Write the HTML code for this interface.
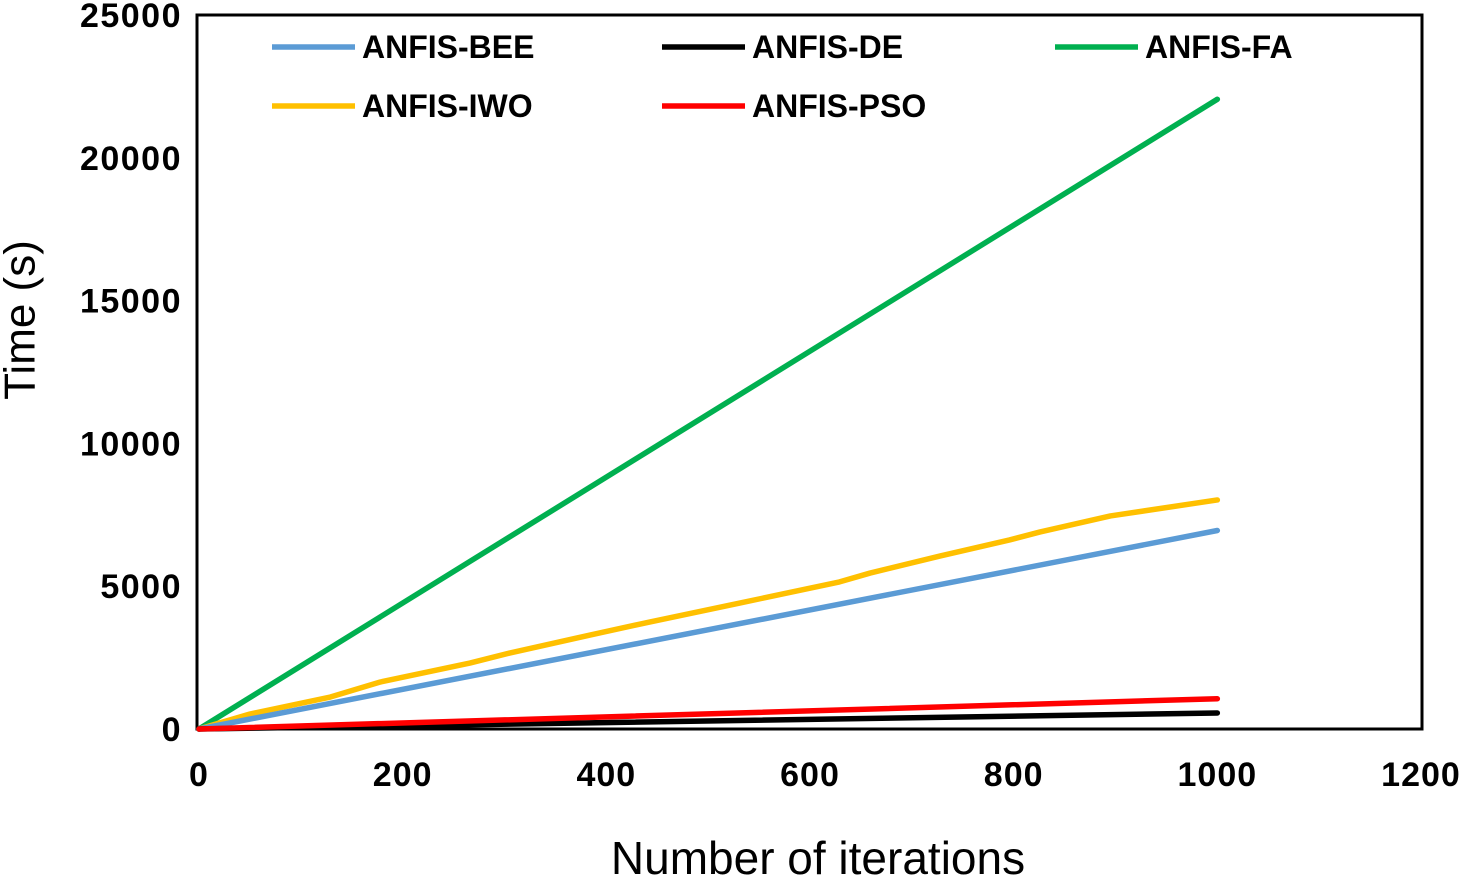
<!DOCTYPE html>
<html><head><meta charset="utf-8"><style>
body{margin:0;background:#fff;}
svg{display:block;font-family:"Liberation Sans",Arial,sans-serif;}
.tick{font-size:34px;font-weight:bold;fill:#000;}
.leg{font-size:32px;font-weight:bold;fill:#000;}
</style></head><body>
<svg id="chart" width="1472" height="880">
<rect x="197" y="15" width="1225" height="714" fill="#fff" stroke="#000" stroke-width="3"/>
<g id="axes"></g>
<g id="series"></g>
<g id="legend"></g>
<text x="20" y="320" transform="rotate(-90 20 320)" text-anchor="middle" dominant-baseline="central" font-size="44">Time (s)</text>
<text x="818" y="874" text-anchor="middle" font-size="46">Number of iterations</text>
</svg>
<script>
const xTicks=[0,200,400,600,800,1000,1200];
const yTicks=[0,5000,10000,15000,20000,25000];
const yTickLabels=["0","5000","10000","15000","20000","25000"];
const seriesNames=["ANFIS-BEE","ANFIS-DE","ANFIS-FA","ANFIS-IWO","ANFIS-PSO"];
const seriesColors=["#5b9bd5","#000000","#00b050","#ffc000","#ff0000"];
const beeX=[0,1000];
const beeY=[0,6950];
const deX=[0,1000];
const deY=[0,560];
const faX=[0,1000];
const faY=[0,22050];
const iwoX=[0,50,129,178,266,305,384,443,531,629,659,728,796,826,895,1000];
const iwoY=[0,525,1120,1645,2310,2660,3290,3750,4410,5150,5460,6060,6620,6900,7460,8020];
const psoX=[0,1000];
const psoY=[0,1060];
const NS="http://www.w3.org/2000/svg";
const X=v=>199+v/1200*1222;
const Y=v=>729-v/25000*714;
const ax=document.getElementById('axes');
xTicks.forEach(t=>{const e=document.createElementNS(NS,'text');


e.setAttribute('class','tick');e.setAttribute('x',X(t));e.setAttribute('y',786);e.setAttribute('text-anchor','middle');e.setAttribute('letter-spacing','1');e.textContent=t;ax.appendChild(e);});
yTicks.forEach((t,i)=>{const e=document.createElementNS(NS,'text');


e.setAttribute('class','tick');e.setAttribute('x',182);e.setAttribute('y',Y(t)+12);e.setAttribute('text-anchor','end');e.setAttribute('letter-spacing','1.5');e.textContent=yTickLabels[i];ax.appendChild(e);});
const sg=document.getElementById('series');
const data=[[beeX,beeY],[deX,deY],[faX,faY],[iwoX,iwoY],[psoX,psoY]];
const order=[2,3,0,1,4];
order.forEach(i=>{const [xs,ys]=data[i];const p=document.createElementNS(NS,'polyline');


p.setAttribute('points',xs.map((x,j)=>X(x)+','+Y(ys[j])).join(' '));
p.setAttribute('fill','none');p.setAttribute('stroke',seriesColors[i]);p.setAttribute('stroke-width','5.5');p.setAttribute('stroke-linejoin','round');p.setAttribute('stroke-linecap','round');sg.appendChild(p);});
const lg=document.getElementById('legend');
const lpos=[[272,47],[662,47],[1055,47],[272,106],[662,106]];
seriesNames.forEach((n,i)=>{const [lx,ly]=lpos[i];
const g=document.createElementNS(NS,'g');


const l=document.createElementNS(NS,'line');l.setAttribute('x1',lx);l.setAttribute('x2',lx+83);l.setAttribute('y1',ly);l.setAttribute('y2',ly);l.setAttribute('stroke',seriesColors[i]);l.setAttribute('stroke-width','5.5');g.appendChild(l);
const t=document.createElementNS(NS,'text');t.setAttribute('class','leg');t.setAttribute('x',lx+90);t.setAttribute('y',ly+11);t.textContent=n;g.appendChild(t);
lg.appendChild(g);});
</script>
</body></html>
